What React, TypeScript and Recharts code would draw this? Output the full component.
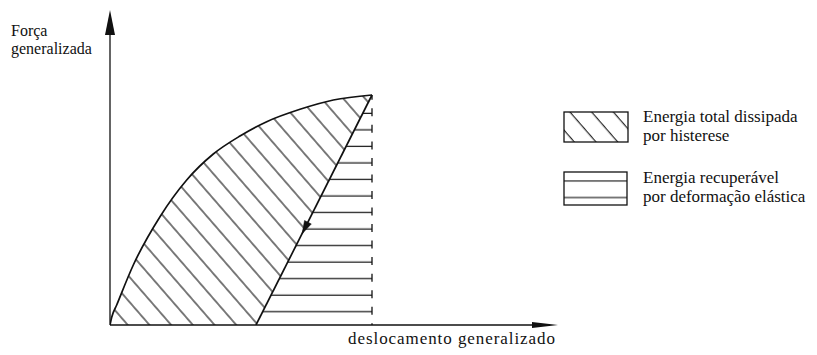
import { ComposedChart, Area, XAxis, YAxis, ReferenceLine, ReferenceDot } from 'recharts'

// loading curve (força x deslocamento)
const loadX = [0, 1.7, 6.7, 23.3, 50, 76.7, 103.3, 130, 156.7, 190, 223.3, 262]
const loadY = [0, 7.7, 20, 60, 108.3, 145, 171, 189, 203.3, 215.7, 225, 230]

// unloading (elastic) line
const unloadX = [146, 262]
const unloadY = [0, 230]

// axis ends and arrow on the unloading line
const axisTip = { x: 448, y: 315 }
const arrowMark = { x: 195, y: 97 }

const labels = {
  yAxis: ['Força', 'generalizada'],
  xAxis: 'deslocamento generalizado',
  dissipated: ['Energia total dissipada', 'por histerese'],
  recovered: ['Energia recuperável', 'por deformação elástica'],
}

const loadData = loadX.map((x, i) => ({ x, y: loadY[i] }))
const unloadData = unloadX.map((x, i) => ({ x, y: unloadY[i] }))

const INK = '#111'
const FONT = "'Liberation Serif', 'Times New Roman', Times, serif"

const W = 801
const H = 340

// triangle centred on the point, pointing along (dx, dy) in screen space
function arrowShape(dx: number, dy: number, len: number, half: number) {
  return (props: any) => {
    const { cx, cy } = props
    const l = Math.hypot(dx, dy)
    const ux = dx / l
    const uy = dy / l
    const px = -uy
    const py = ux
    const tx = cx + ux * len * 0.5
    const ty = cy + uy * len * 0.5
    const bx = cx - ux * len * 0.5
    const by = cy - uy * len * 0.5
    const pts = `${tx},${ty} ${bx + px * half},${by + py * half} ${bx - px * half},${by - py * half}`
    return <polygon points={pts} fill={INK} stroke={INK} strokeWidth={0.5} />
  }
}

// arrowhead whose tip sits on the point
function tipShape(dx: number, dy: number, len: number, half: number) {
  return (props: any) => {
    const { cx, cy } = props
    const px = -dy
    const py = dx
    const bx = cx - dx * len
    const by = cy - dy * len
    const pts = `${cx},${cy} ${bx + px * half},${by + py * half} ${bx - px * half},${by - py * half}`
    return <polygon points={pts} fill={INK} />
  }
}

const txt = (size: number) => ({ fontFamily: FONT, fontSize: size, fill: INK })

export default function App() {
  return (
    <div style={{ position: 'relative', width: W, height: H, background: '#fff' }}>
      <ComposedChart width={W} height={H} margin={{ top: 2, right: 249, bottom: 23, left: 102 }}>
        <defs>
          <pattern id="diag" patternUnits="userSpaceOnUse" width={10} height={16.38} patternTransform="rotate(49)">
            <line x1={-1} y1={2.9} x2={11} y2={2.9} stroke={INK} strokeWidth={1.1} />
          </pattern>
          <pattern id="horiz" patternUnits="userSpaceOnUse" width={10} height={16.53}>
            <rect x={0} y={0} width={10} height={16.53} fill="#fff" />
            <line x1={-1} y1={6.16} x2={11} y2={6.16} stroke={INK} strokeWidth={1.2} />
          </pattern>
        </defs>
        <XAxis dataKey="x" type="number" domain={[0, 450]} hide allowDataOverflow />
        <YAxis type="number" domain={[0, 315]} hide allowDataOverflow />

        <Area
          data={loadData}
          dataKey="y"
          type="monotone"
          stroke={INK}
          strokeWidth={1.7}
          fill="url(#diag)"
          fillOpacity={1}
          isAnimationActive={false}
        />
        <Area
          data={unloadData}
          dataKey="y"
          type="linear"
          stroke={INK}
          strokeWidth={1.7}
          fill="url(#horiz)"
          fillOpacity={1}
          isAnimationActive={false}
        />
        <ReferenceLine
          segment={[{ x: unloadX[1], y: 0 }, { x: unloadX[1], y: unloadY[1] }]}
          stroke={INK}
          strokeWidth={1.3}
          strokeDasharray="8 8.53"
          strokeDashoffset={6.23}
          ifOverflow="visible"
        />

        {/* axes */}
        <ReferenceLine segment={[{ x: 0, y: 0 }, { x: 0, y: 300 }]} stroke={INK} strokeWidth={1.3} ifOverflow="visible" />
        <ReferenceLine segment={[{ x: 0, y: 0 }, { x: 440, y: 0 }]} stroke={INK} strokeWidth={1.3} ifOverflow="visible" />
        <ReferenceDot x={0} y={axisTip.y} r={1} ifOverflow="visible" shape={tipShape(0, -1, 25, 5)} />
        <ReferenceDot x={axisTip.x} y={0} r={1} ifOverflow="visible" shape={tipShape(1, 0, 26, 3)} />
        <ReferenceDot x={arrowMark.x} y={arrowMark.y} r={1} ifOverflow="visible" shape={arrowShape(-116, 230, 13, 3.8)} />
      </ComposedChart>

      <svg width={W} height={H} style={{ position: 'absolute', left: 0, top: 0, pointerEvents: 'none' }}>
        <defs>
          <pattern id="legD" patternUnits="userSpaceOnUse" width={10} height={16.38} patternTransform="rotate(49)">
            <line x1={-1} y1={4.5} x2={11} y2={4.5} stroke={INK} strokeWidth={1.1} />
          </pattern>
          <pattern id="legH" patternUnits="userSpaceOnUse" width={10} height={16.53}>
            <line x1={-1} y1={7.7} x2={11} y2={7.7} stroke={INK} strokeWidth={1.1} />
          </pattern>
        </defs>
        <text x={3} y={28} style={txt(16)}>{labels.yAxis[0]}</text>
        <text x={3} y={46} style={txt(16)}>{labels.yAxis[1]}</text>
        <text x={340} y={336} style={txt(17)} textLength={207} lengthAdjust="spacing">{labels.xAxis}</text>

        <rect x={556} y={104} width={64} height={30} fill="url(#legD)" stroke={INK} strokeWidth={1.3} />
        <text x={635} y={114} style={txt(17)}>{labels.dissipated[0]}</text>
        <text x={635} y={133} style={txt(17)}>{labels.dissipated[1]}</text>

        <rect x={556} y={164} width={63} height={33} fill="url(#legH)" stroke={INK} strokeWidth={1.3} />
        <text x={635} y={175} style={txt(17)}>{labels.recovered[0]}</text>
        <text x={635} y={194} style={txt(17)}>{labels.recovered[1]}</text>
      </svg>
    </div>
  )
}
